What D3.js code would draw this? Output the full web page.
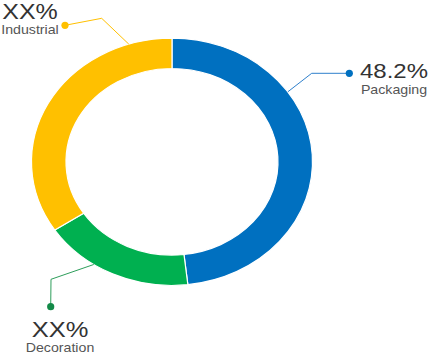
<!DOCTYPE html>
<html>
<head>
<meta charset="utf-8">
<script src="https://cdn.jsdelivr.net/npm/d3@7"></script>
<style>
  html, body { margin: 0; padding: 0; background: #fff; }
  svg { display: block; }
  text { font-family: "Liberation Sans", Arial, sans-serif; }
</style>
</head>
<body>
<svg id="chart" width="433" height="356"></svg>
<script>
// ---- data ----
const categories = ["Packaging", "Decoration", "Industrial"];
const shares = [48.2, 17.5, 34.3];
const valueLabels = ["48.2%", "XX%", "XX%"];
const colors = ["#0070C0", "#00B050", "#FFC000"];
const lineColors = ["#2F80CC", "#2E9E5B", "#FFC000"];
const dotColors = ["#0070C0", "#138A48", "#FFC000"];

// ---- layout ----
const W = 433, H = 356;
const cx = 172, cy = 161.8;
const R = 140.5, r = 106, sy = 0.88;
// leader anchor: fraction within slice, elbow and dot position, label block centre
const leaders = [
  { t: 0.32, elbow: [311.7, 73.3], dot: [349.3, 73.3], lx: 394, numY: 78, labY: 93.5, fs: 24 },
  { t: 0.64, elbow: [51, 279.3], dot: [50.7, 306.7], lx: 60, numY: 336.7, labY: 351.5, fs: 25.5 },
  { t: 0.855, elbow: [101.7, 18.3], dot: [65, 25.3], lx: 30, numY: 19, labY: 34.2, fs: 25 }
];

const svg = d3.select("#chart");

const pie = d3.pie().sort(null).value(d => d)
  .startAngle(0).endAngle(2 * Math.PI);
const arcs = pie(shares);
const arc = d3.arc().innerRadius(r).outerRadius(R);

const ring = svg.append("g")
  .attr("transform", `translate(${cx},${cy}) scale(1,${sy})`);
ring.selectAll("path").data(arcs).join("path")
  .attr("d", arc)
  .attr("fill", (d, i) => colors[i])
  .attr("stroke", "#fff")
  .attr("stroke-width", 1.2)
  .attr("vector-effect", "non-scaling-stroke");

// leader lines
arcs.forEach((a, i) => {
  const L = leaders[i];
  const ang = a.startAngle + (a.endAngle - a.startAngle) * L.t;
  const sx = cx + R * Math.sin(ang);
  const syp = cy - R * Math.cos(ang) * sy;
  svg.append("path")
    .attr("d", d3.line()([[sx, syp], L.elbow, L.dot]))
    .attr("fill", "none")
    .attr("stroke", lineColors[i])
    .attr("stroke-width", 1);
  svg.append("circle")
    .attr("cx", L.dot[0]).attr("cy", L.dot[1]).attr("r", 3.6)
    .attr("fill", dotColors[i]);
  svg.append("text")
    .attr("transform", `translate(${L.lx},${L.numY}) scale(1,${sy})`)
    .attr("text-anchor", "middle")
    .attr("font-size", L.fs)
    .attr("fill", "#333333")
    .text(valueLabels[i]);
  svg.append("text")
    .attr("transform", `translate(${L.lx},${L.labY}) scale(1,${sy})`)
    .attr("text-anchor", "middle")
    .attr("font-size", 14.2)
    .attr("fill", "#555555")
    .text(categories[i]);
});
</script>
</body>
</html>
